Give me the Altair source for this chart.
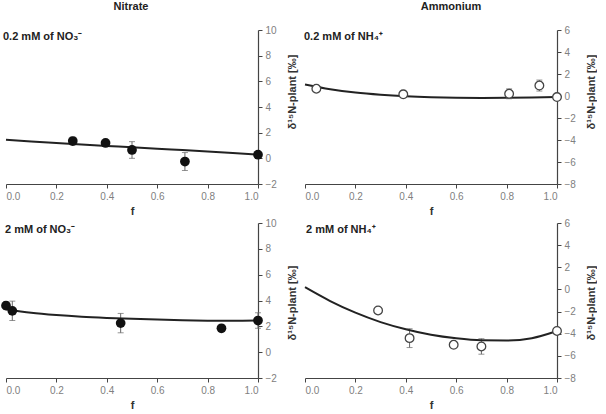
import altair as alt
import pandas as pd

FONT = "Liberation Sans"

# ---------------- data ----------------
curve_f = [0.0, 0.1, 0.2, 0.3, 0.4, 0.5, 0.6, 0.7, 0.8, 0.9, 1.0]

# 0.2 mM nitrate
no3_low_f = [0.265, 0.395, 0.50, 0.71, 1.0]
no3_low_d = [1.35, 1.2, 0.65, -0.25, 0.28]
no3_low_e = [0.3, 0.2, 0.65, 0.7, 0.1]
no3_low_curve = [1.45, 1.32, 1.2, 1.08, 0.97, 0.86, 0.75, 0.64, 0.53, 0.41, 0.28]

# 2 mM nitrate
no3_high_f = [0.0, 0.025, 0.455, 0.855, 1.0]
no3_high_d = [3.6, 3.2, 2.25, 1.85, 2.45]
no3_high_e = [0.3, 0.75, 0.75, 0.2, 0.6]
no3_high_curve = [3.33, 3.05, 2.87, 2.74, 2.65, 2.58, 2.52, 2.47, 2.44, 2.43, 2.45]

# 0.2 mM ammonium
nh4_low_f = [0.045, 0.39, 0.81, 0.93, 1.0]
nh4_low_d = [0.66, 0.15, 0.2, 0.95, -0.1]
nh4_low_e = [0.2, 0.3, 0.45, 0.5, 0.15]
nh4_low_curve = [1.05, 0.62, 0.32, 0.12, -0.02, -0.11, -0.16, -0.18, -0.17, -0.14, -0.1]

# 2 mM ammonium
nh4_high_f = [0.29, 0.415, 0.59, 0.70, 1.0]
nh4_high_d = [-1.9, -4.4, -5.0, -5.15, -3.75]
nh4_high_e = [0.2, 0.85, 0.2, 0.7, 0.3]
nh4_high_curve = [0.2, -1.05, -2.1, -2.95, -3.6, -4.1, -4.42, -4.6, -4.62, -4.4, -3.75]

x_ticks = [0.0, 0.2, 0.4, 0.6, 0.8, 1.0]
y_title = "δ¹⁵N-plant [‰]"

W = 252


def panel(fs, ds, es, curve, ymin, ymax, label, label_x, filled, height, ytitle_y,
          header=None, header_x=0):
    pts = pd.DataFrame({"f": fs, "d": ds, "lo": [d - e for d, e in zip(ds, es)],
                        "hi": [d + e for d, e in zip(ds, es)]})
    cdf = pd.DataFrame({"f": curve_f, "d": curve})
    xs = alt.Scale(domain=[0, 1], nice=False)
    ys = alt.Scale(domain=[ymin, ymax], nice=False)
    xax = alt.Axis(values=x_ticks, format=".1f", title="f", orient="bottom", labelOverlap=False)
    yax = alt.Axis(values=list(range(ymin, ymax + 1, 2)), title=None, orient="right",
                   labelOverlap=False, format="d")

    def X(field):
        return alt.X(field, scale=xs, axis=xax)

    def Y(field):
        return alt.Y(field, scale=ys, axis=yax)

    base = alt.Chart(pts)
    err = base.mark_rule(color="#666666", strokeWidth=1).encode(
        x=X("f:Q"), y=Y("lo:Q"), y2="hi:Q")
    cap_lo = base.mark_tick(color="#666666", orient="horizontal", size=6, thickness=1).encode(
        x=X("f:Q"), y=Y("lo:Q"))
    cap_hi = base.mark_tick(color="#666666", orient="horizontal", size=6, thickness=1).encode(
        x=X("f:Q"), y=Y("hi:Q"))
    line = alt.Chart(cdf).mark_line(color="#222222", strokeWidth=2, interpolate="monotone").encode(
        x=X("f:Q"), y=Y("d:Q"))
    if filled:
        points = base.mark_point(filled=True, color="#111111", size=95, opacity=1).encode(
            x=X("f:Q"), y=Y("d:Q"))
    else:
        points = base.mark_point(filled=False, fill="white", fillOpacity=1, stroke="#444444",
                                 strokeWidth=1.3, size=75, opacity=1).encode(
            x=X("f:Q"), y=Y("d:Q"))
    lab = alt.Chart(pd.DataFrame({"t": [label]})).mark_text(
        align="left", baseline="middle", font=FONT, fontSize=11, fontWeight="bold",
        color="#222222").encode(text="t:N", x=alt.value(label_x), y=alt.value(7))
    ytl = alt.Chart(pd.DataFrame({"t": [y_title]})).mark_text(
        align="center", baseline="middle", angle=270, font=FONT, fontSize=11,
        fontWeight="bold", color="#333333").encode(
        text="t:N", x=alt.value(W + 35), y=alt.value(ytitle_y))
    layers = [err, line, cap_lo, cap_hi, points, lab, ytl]
    if header:
        hd = alt.Chart(pd.DataFrame({"t": [header]})).mark_text(
            align="center", baseline="middle", font=FONT, fontSize=11, fontWeight="bold",
            color="#222222").encode(text="t:N", x=alt.value(header_x), y=alt.value(-23))
        layers.append(hd)
    return alt.layer(*layers).properties(width=W, height=height)


tl = panel(no3_low_f, no3_low_d, no3_low_e, no3_low_curve, -2, 10, "0.2 mM of NO₃⁻", -3, True,
           154, 62, "Nitrate", 125)
tr = panel(nh4_low_f, nh4_low_d, nh4_low_e, nh4_low_curve, -8, 6, "0.2 mM of NH₄⁺", -1, False,
           154, 62, "Ammonium", 146)
bl = panel(no3_high_f, no3_high_d, no3_high_e, no3_high_curve, -2, 10, "2 mM of NO₃⁻", -1, True,
           155, 80)
br = panel(nh4_high_f, nh4_high_d, nh4_high_e, nh4_high_curve, -8, 6, "2 mM of NH₄⁺", 1, False,
           155, 80)

top = alt.hconcat(tl, tr, spacing=3)
bottom = alt.hconcat(bl, br, spacing=3)
chart = alt.vconcat(top, bottom, spacing=2).properties(
    padding={"left": 1, "top": 1, "right": 0, "bottom": 0}
).configure_view(stroke=None).configure_axis(
    grid=False, domainColor="#444444", domainWidth=1.2, tickColor="#444444", tickSize=4,
    labelFont=FONT, labelFontSize=10, labelColor="#808080", labelPadding=3,
    labelOverlap=False,
    titleFont=FONT, titleFontSize=11, titleFontWeight="bold", titleColor="#333333",
).configure_axisX(titlePadding=4)

chart.save("out.html", embed_options={"renderer": "svg", "actions": False})
